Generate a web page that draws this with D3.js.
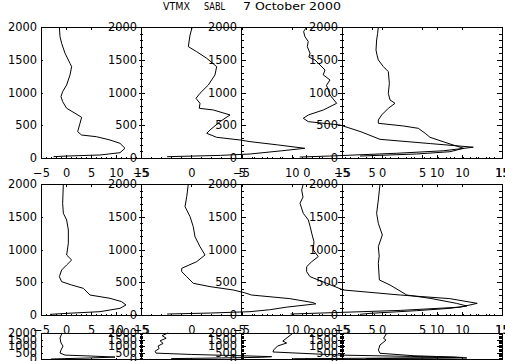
<!DOCTYPE html>
<html><head><meta charset="utf-8">
<script src="https://cdn.jsdelivr.net/npm/d3@7"></script>
<style>
body{margin:0;background:#fff}
svg{display:block}
</style>
</head><body>
<svg id="c" width="505" height="361"></svg>
<script>
// ---- text ----
const titleParts = ["VTMX", "SABL", "7 October 2000"];
// ---- axes ----
const xTicks = [-5, 0, 5, 10, 15];
const xMinor = d3.range(-5, 16, 1);
const yTicks = [0, 500, 1000, 1500, 2000];
const yMinor = d3.range(0, 2001, 100);
const xDomain = [-5, 15];
const yDomain = [0, 2000];

// ---- profiles: altitude (m) and value, row 1 ----
const r1aAlt = [2000,1852,1750,1600,1445,1395,1268,1115,1013,937,860,759,683,621,530,402,351,325,275,224,148,81,46,30,20];
const r1aVal = [-1.33,-1.2,-0.87,-0.2,0.8,1.13,0.8,0.13,-0.67,-1.0,-0.67,0.13,1.8,3.13,2.8,2.33,3.1,6.1,8.8,10.8,11.8,10.8,6.8,0.1,-2.5];
const r1bAlt = [2000,1878,1700,1623,1522,1395,1268,1115,988,911,835,759,733,657,555,428,377,316,275,250,200,148,110,61,40,20];
const r1bVal = [0.1,-0.12,-0.29,0.54,1.54,2.53,2.36,1.7,0.87,0.47,0.87,0.8,2.2,3.86,2.86,1.87,1.54,2.53,4.85,5.85,8.6,11.3,9.0,5.85,2.9,-2.4];
const r1cAlt = [2000,1930,1852,1780,1700,1600,1540,1497,1420,1344,1270,1191,1110,1038,962,835,733,657,606,555,504,400,285,220,165,110,72,30,15];
const r1cVal = [0.03,-0.2,-0.1,0.15,0.08,0.29,0.2,0.67,1.05,1.44,1.3,1.82,1.55,1.69,1.82,2.33,1.31,0.16,-0.23,0.16,2.59,4.2,5.65,9.5,12.8,10.5,6.9,1.8,-0.5];
const r1dAlt = [2000,1900,1802,1649,1560,1497,1395,1318,1140,988,886,835,759,657,580,530,489,453,377,316,214,148,96,61,30];
const r1dVal = [-0.46,-0.55,-0.67,-0.75,-0.6,-0.46,0.17,0.79,0.92,0.79,1.0,1.63,0.79,-0.04,-0.46,-0.46,2.67,4.54,5.4,6.0,8.5,10.2,8.5,4.3,-2.75];
// ---- row 2 ----
const r2aAlt = [2000,1705,1553,1451,1298,1095,916,840,764,687,585,509,458,407,305,255,204,153,102,51,25,10];
const r2aVal = [-0.53,-0.67,-0.53,0.13,0.47,0.47,0.13,1.13,0.13,-0.87,-1.33,-0.87,1.13,3.47,4.8,8.8,11.1,12,10.8,6.8,0.13,-3.2];
const r2bAlt = [2000,1807,1654,1502,1349,1196,1043,916,814,713,662,585,484,433,382,340,305,250,190,170,120,80,51,30,15];
const r2bVal = [-0.29,-0.45,-0.62,-0.12,0.2,0.37,0.87,1.37,0.54,-0.95,-0.95,-0.45,0.2,1.87,4.18,5.3,6.0,9.8,12.1,12.4,9.5,7.8,5.85,1.9,-2.4];
const r2cAlt = [2000,1909,1800,1705,1553,1451,1350,1248,1120,993,891,814,738,662,585,484,382,305,250,178,120,70,35,15];
const r2cVal = [-0.23,-0.35,-0.25,-0.48,-0.23,0.16,0.3,0.42,0.59,0.54,0.92,0.42,0.03,0.03,0.29,1.56,2.84,7.2,11,13.1,11.8,7.2,1.9,-1.2];
const r2dAlt = [2000,1756,1553,1400,1222,1043,900,789,535,458,305,255,178,137,102,66,25,10];
const r2dVal = [-0.25,-0.46,-0.67,-0.46,0.04,-0.46,-0.35,-0.46,-0.33,1.0,3.1,6,9.3,10.6,8.5,4.3,-1.5,-2.75];
// ---- row 3 ----
const r3aAlt = [2000,1615,1230,1000,690,460,300,230,150,77,0];
const r3aVal = [-0.8,-1.2,-1.0,-0.6,-1.0,-1.2,-0.2,4.8,9.8,4.8,-3];
const r3bAlt = [2000,1800,1600,1400,1200,1000,800,600,450,350,250,180,130,80,30];
const r3bVal = [-2.3,-2.9,-2.5,-3.1,-2.8,-3.3,-3.2,-3.6,-3.5,0,5,8,7,3,-2];
const r3cAlt = [2000,1690,1380,1230,1000,690,540,300,200,120,60,20];
const r3cVal = [-1.0,-1.4,-1.8,-1.5,-2.2,-2.5,-2.55,2.6,8,12,5,-1];
const r3dAlt = [2000,1590,1450,1077,690,440,250,150,80,30];
const r3dVal = [0.6,0.2,0.5,-0.25,-0.45,-0.25,4,9,10.6,-2];

const curves = [
  [0,0,r1aAlt,r1aVal],[0,1,r1bAlt,r1bVal],[0,2,r1cAlt,r1cVal],[0,3,r1dAlt,r1dVal],
  [1,0,r2aAlt,r2aVal],[1,1,r2bAlt,r2bVal],[1,2,r2cAlt,r2cVal],[1,3,r2dAlt,r2dVal],
  [2,0,r3aAlt,r3aVal],[2,1,r3bAlt,r3bVal],[2,2,r3cAlt,r3cVal],[2,3,r3dAlt,r3dVal]
];

// ---- layout ----
const plotsX = [[41,141],[141,342],[241,502],[342,502]];
const rowsY = [[27,158],[184,315],[333,359]];
const FONT = '"DejaVu Sans", sans-serif';
const FS = 11.4;

const svg = d3.select("#c");
svg.append("rect").attr("width",505).attr("height",361).attr("fill","#fff");

// title
const tPos = [[163,27],[204,21],[243,98]];
titleParts.forEach((t,i)=>{
  svg.append("text").attr("x",tPos[i][0]).attr("y",9.5)
    .attr("font-family",FONT).attr("font-size",10)
    .attr("textLength",tPos[i][1]).attr("lengthAdjust","spacingAndGlyphs")
    .text(t);
});

function styleAxis(g){
  g.attr("font-family",FONT).attr("font-size",FS);
  g.selectAll("path,line").attr("stroke","#000").attr("stroke-width",1).attr("shape-rendering","crispEdges");
  g.selectAll("text").attr("fill","#000");
}

const scales = [];
rowsY.forEach((ry,ri)=>{
  plotsX.forEach((px,pi)=>{
    const x = d3.scaleLinear().domain(xDomain).range(px);
    const y = d3.scaleLinear().domain(yDomain).range([ry[1],ry[0]]);
    scales.push({ri,pi,x,y});
    const w = px[1]-px[0], h = ry[1]-ry[0];
    const tx = 0.02*h, ty = 0.02*w;
    const g = svg.append("g");
    // bottom major with labels
    g.append("g").attr("transform",`translate(0,${ry[1]})`)
      .call(d3.axisBottom(x).tickValues(xTicks).tickSizeInner(-tx).tickSizeOuter(0).tickPadding(11))
      .call(styleAxis);
    g.append("g").attr("transform",`translate(0,${ry[1]})`)
      .call(d3.axisBottom(x).tickValues(xMinor).tickSizeInner(-tx/2).tickSizeOuter(0).tickFormat(""))
      .call(styleAxis);
    // top
    g.append("g").attr("transform",`translate(0,${ry[0]})`)
      .call(d3.axisTop(x).tickValues(xTicks).tickSizeInner(-tx).tickSizeOuter(0).tickFormat(""))
      .call(styleAxis);
    g.append("g").attr("transform",`translate(0,${ry[0]})`)
      .call(d3.axisTop(x).tickValues(xMinor).tickSizeInner(-tx/2).tickSizeOuter(0).tickFormat(""))
      .call(styleAxis);
    // left with labels
    g.append("g").attr("transform",`translate(${px[0]},0)`)
      .call(d3.axisLeft(y).tickValues(yTicks).tickSizeInner(-ty).tickSizeOuter(0).tickPadding(4).tickFormat(d3.format("d")))
      .call(styleAxis);
    g.append("g").attr("transform",`translate(${px[0]},0)`)
      .call(d3.axisLeft(y).tickValues(yMinor).tickSizeInner(-ty/2).tickSizeOuter(0).tickFormat(""))
      .call(styleAxis);
    // right
    g.append("g").attr("transform",`translate(${px[1]},0)`)
      .call(d3.axisRight(y).tickValues(yTicks).tickSizeInner(-ty).tickSizeOuter(0).tickFormat(""))
      .call(styleAxis);
    g.append("g").attr("transform",`translate(${px[1]},0)`)
      .call(d3.axisRight(y).tickValues(yMinor).tickSizeInner(-ty/2).tickSizeOuter(0).tickFormat(""))
      .call(styleAxis);
  });
});

curves.forEach(([ri,pi,alt,val])=>{
  const s = scales.find(d=>d.ri===ri && d.pi===pi);
  const pts = alt.map((a,i)=>[val[i],a]);
  svg.append("path").datum(pts)
    .attr("d", d3.line().x(d=>s.x(d[0])).y(d=>s.y(d[1])))
    .attr("fill","none").attr("stroke","#000").attr("stroke-width",1);
});
</script>
</body></html>
